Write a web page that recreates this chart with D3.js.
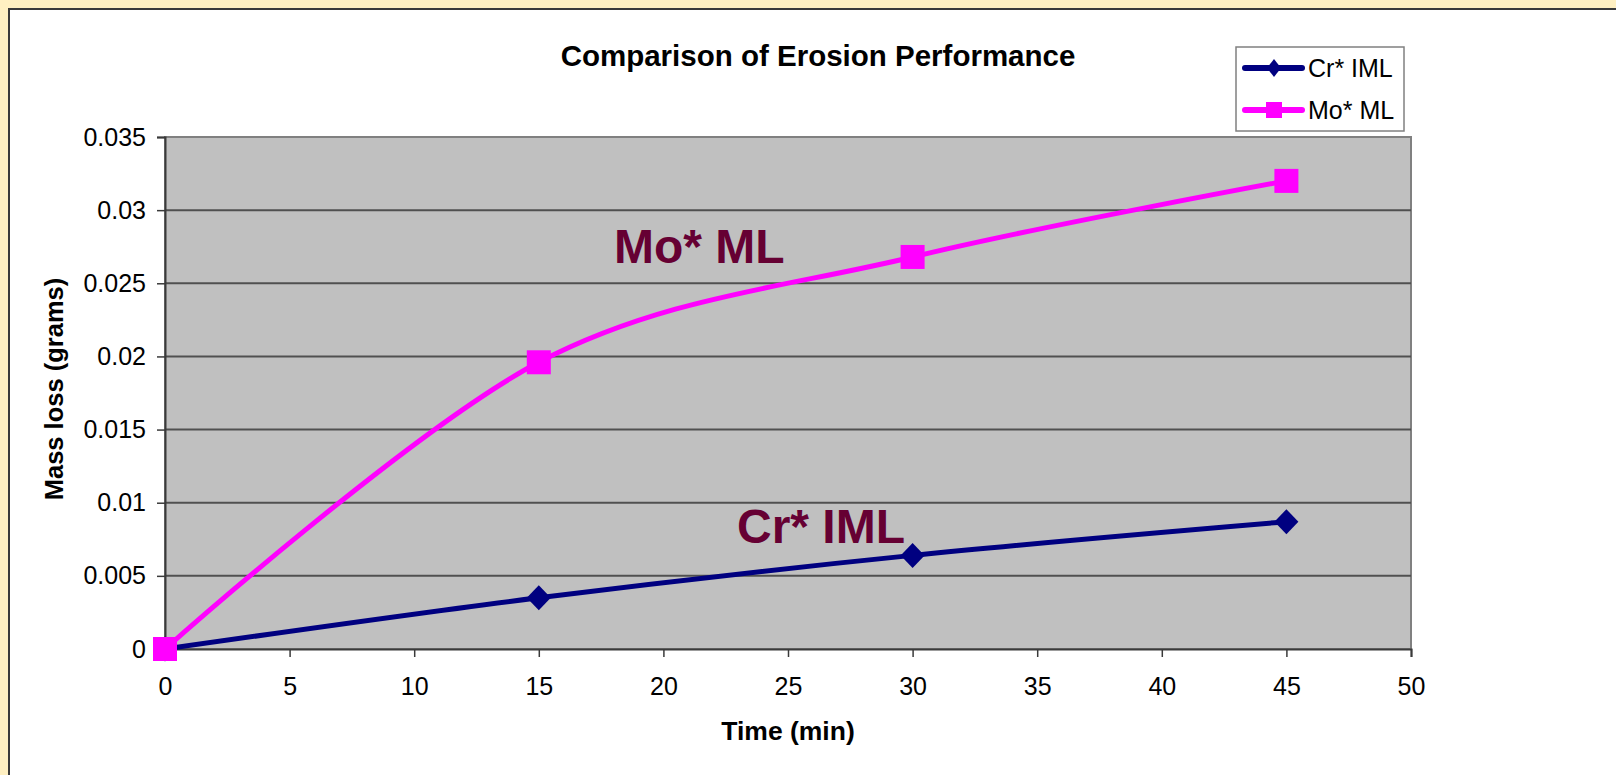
<!DOCTYPE html>
<html>
<head>
<meta charset="utf-8">
<script src="https://cdn.jsdelivr.net/npm/d3@7"></script>
<style>
  html, body { margin: 0; padding: 0; background: #fff0c2; }
  svg { display: block; font-family: "Liberation Sans", Arial, sans-serif; }
</style>
</head>
<body>
<div id="stage"></div>
<script>
// data
const times = [0, 15, 30, 45];
const crValues = [0, 0.0035, 0.0064, 0.0087];
const moValues = [0, 0.0196, 0.0268, 0.032];
const xTicks = [0, 5, 10, 15, 20, 25, 30, 35, 40, 45, 50];
const yTicks = [0, 0.005, 0.01, 0.015, 0.02, 0.025, 0.03, 0.035];
const seriesNames = ["Cr* IML", "Mo* ML"];

const W = 1616, H = 775;
const plot = { left: 165, top: 137, right: 1411, bottom: 649 };

const stage = document.querySelector('#stage');

const svg = d3.select(stage).append("svg")
  .attr("width", W)
  .attr("height", H);

// white chart sheet with border on left/top
svg.append("rect")
  .attr("x", 9).attr("y", 9)
  .attr("width", W).attr("height", H)
  .attr("fill", "#fff")
  .attr("stroke", "#3a3a3a")
  .attr("stroke-width", 2);

const x = d3.scaleLinear().domain([0, 50]).range([plot.left, plot.right]);
const y = d3.scaleLinear().domain([0, 0.035]).range([plot.bottom, plot.top]);

// plot area
svg.append("rect")
  .attr("x", plot.left).attr("y", plot.top)
  .attr("width", plot.right - plot.left)
  .attr("height", plot.bottom - plot.top)
  .attr("fill", "#c0c0c0")
  .attr("stroke", "#808080")
  .attr("stroke-width", 2);

// gridlines
svg.append("g")
  .selectAll("line")
  .data(yTicks.filter(d => d > 0 && d < 0.035))
  .join("line")
  .attr("x1", plot.left).attr("x2", plot.right)
  .attr("y1", d => y(d)).attr("y2", d => y(d))
  .attr("stroke", "#505050")
  .attr("stroke-width", 2);

const fmtY = d => d === 0 ? "0" : String(+d.toFixed(3));

const yAxis = svg.append("g")
  .attr("transform", `translate(${plot.left},0)`)
  .call(d3.axisLeft(y).tickValues(yTicks).tickFormat(fmtY).tickSize(8).tickPadding(11));

const xAxis = svg.append("g")
  .attr("transform", `translate(0,${plot.bottom})`)
  .call(d3.axisBottom(x).tickValues(xTicks).tickFormat(d3.format("d")).tickSize(8).tickPadding(20));

[yAxis, xAxis].forEach(ax => {
  ax.select(".domain").attr("stroke", "#3a3a3a").attr("stroke-width", 2);
  ax.selectAll(".tick line").attr("stroke", "#3a3a3a").attr("stroke-width", 1.5);
  ax.selectAll(".tick text")
    .attr("fill", "#000")
    .style("font-size", "25px")
    .style("font-family", "'Liberation Sans', Arial, sans-serif");
});

// lines
const lineFn = d3.line()
  .x(d => x(d[0]))
  .y(d => y(d[1]))
  .curve(d3.curveCatmullRom.alpha(0));

const crData = times.map((t, i) => [t, crValues[i]]);
const moData = times.map((t, i) => [t, moValues[i]]);

svg.append("path")
  .attr("d", lineFn(crData))
  .attr("fill", "none")
  .attr("stroke", "#000080")
  .attr("stroke-width", 5);

svg.append("path")
  .attr("d", lineFn(moData))
  .attr("fill", "none")
  .attr("stroke", "#ff00ff")
  .attr("stroke-width", 5);

// markers
svg.append("g")
  .selectAll("path")
  .data(crData)
  .join("path")
  .attr("transform", d => `translate(${x(d[0])},${y(d[1])})`)
  .attr("d", "M0,-12.5L12,0L0,12.5L-12,0Z")
  .attr("fill", "#000080");

svg.append("g")
  .selectAll("rect")
  .data(moData)
  .join("rect")
  .attr("x", d => x(d[0]) - 12)
  .attr("y", d => y(d[1]) - 12)
  .attr("width", 24).attr("height", 24)
  .attr("fill", "#ff00ff");

// in-plot labels
svg.append("text")
  .attr("x", 614).attr("y", 263)
  .attr("fill", "#660033")
  .style("font-size", "48px").style("font-weight", "bold")
  .text(seriesNames[1]);

svg.append("text")
  .attr("x", 737).attr("y", 543)
  .attr("fill", "#660033")
  .style("font-size", "48px").style("font-weight", "bold")
  .text(seriesNames[0]);

// title
svg.append("text")
  .attr("x", 818).attr("y", 66)
  .attr("text-anchor", "middle")
  .style("font-size", "29.5px").style("font-weight", "bold")
  .text("Comparison of Erosion Performance");

// axis titles
svg.append("text")
  .attr("x", (plot.left + plot.right) / 2).attr("y", 740)
  .attr("text-anchor", "middle")
  .style("font-size", "26.5px").style("font-weight", "bold")
  .text("Time (min)");

svg.append("text")
  .attr("transform", "translate(63,389) rotate(-90)")
  .attr("text-anchor", "middle")
  .style("font-size", "25.5px").style("font-weight", "bold")
  .text("Mass loss (grams)");

// legend
const legend = svg.append("g");
legend.append("rect")
  .attr("x", 1236).attr("y", 47)
  .attr("width", 168).attr("height", 84)
  .attr("fill", "#fff")
  .attr("stroke", "#808080")
  .attr("stroke-width", 1.5);

const legendRows = [
  { name: seriesNames[0], color: "#000080", shape: "diamond", y: 68 },
  { name: seriesNames[1], color: "#ff00ff", shape: "square", y: 110 }
];

legendRows.forEach(r => {
  legend.append("line")
    .attr("x1", 1245).attr("x2", 1302)
    .attr("y1", r.y).attr("y2", r.y)
    .attr("stroke", r.color)
    .attr("stroke-width", 6)
    .attr("stroke-linecap", "round");
  if (r.shape === "diamond") {
    legend.append("path")
      .attr("transform", `translate(1274,${r.y})`)
      .attr("d", "M0,-9L7,0L0,9L-7,0Z")
      .attr("fill", r.color);
  } else {
    legend.append("rect")
      .attr("x", 1266).attr("y", r.y - 8)
      .attr("width", 16).attr("height", 16)
      .attr("fill", r.color);
  }
  legend.append("text")
    .attr("x", 1308).attr("y", r.y + 8.5)
    .style("font-size", "25px")
    .text(r.name);
});
</script>
</body>
</html>
